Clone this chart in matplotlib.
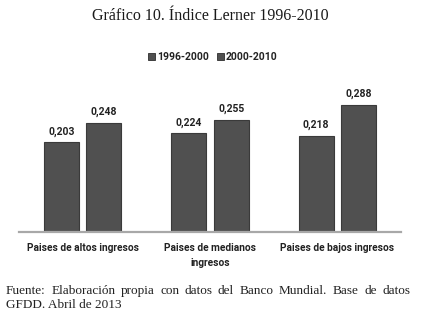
import matplotlib
matplotlib.use("Agg")
import matplotlib.pyplot as plt
import numpy as np
from matplotlib.patches import Rectangle

categories = ["Paises de altos ingresos", "Paises de medianos\ningresos", "Paises de bajos ingresos"]
series_names = ["1996-2000", "2000-2010"]
values_1996_2000 = [0.203, 0.224, 0.218]
values_2000_2010 = [0.248, 0.255, 0.288]

W, H = 421, 315
fig = plt.figure(figsize=(W / 100, H / 100), dpi=100)
fig.patch.set_facecolor("white")

ax = fig.add_axes([19 / W, 83 / H, 382 / W, 152 / H])
x = np.arange(len(categories))
bw = 0.275
off = 0.166
sans = "Roboto"

for vals, sgn in [(values_1996_2000, -1), (values_2000_2010, 1)]:
    bars = ax.bar(x + sgn * off, vals, width=bw, color="#505050",
                  edgecolor="#3a3a3a", linewidth=0.8, zorder=2)
    for b, v in zip(bars, vals):
        ax.annotate(f"{v:.3f}".replace(".", ","),
                    (b.get_x() + b.get_width() / 2, v),
                    xytext=(0, 4), textcoords="offset points",
                    ha="center", va="bottom", fontsize=7.5, fontweight="bold",
                    family=sans, color="#222222")

ax.set_xlim(-0.5, 2.5)
ax.set_ylim(0, 152 / 441)
for s in ["top", "right", "left"]:
    ax.spines[s].set_visible(False)
ax.spines["bottom"].set_color("#a8a8a8")
ax.spines["bottom"].set_linewidth(1.6)
ax.set_yticks([])
ax.set_xticks(x)
ax.set_xticklabels(categories, fontsize=7.3, fontweight="bold", family=sans,
                   color="#222222", linespacing=1.55)
ax.tick_params(axis="x", length=0, pad=8)

# Title
fig.text(210 / W, 1 - 16 / H, "Gráfico 10. Índice Lerner 1996-2010",
         ha="center", va="center", fontsize=11.5, family="Liberation Serif",
         color="#1a1a1a")

# Legend
for sx, name in [(148, series_names[0]), (217, series_names[1])]:
    fig.patches.append(Rectangle((sx / W, 1 - 60 / H), 7 / W, 7 / H,
                                 transform=fig.transFigure,
                                 facecolor="#505050", edgecolor="#2e2e2e", lw=0.6))
    fig.text((sx + 9) / W, 1 - 56.5 / H, name, ha="left", va="center",
             fontsize=7.5, fontweight="bold", family=sans, color="#222222")

# Footnote (justified first line)
line1 = "Fuente: Elaboración propia con datos del Banco Mundial. Base de datos"
line2 = "GFDD. Abril de 2013"
fs = 9.5
serif = "Liberation Serif"
fig.canvas.draw()
r = fig.canvas.get_renderer()
words = line1.split(" ")
x0, x1 = 6, 410
widths = []
for w in words:
    t = fig.text(0, 0, w, fontsize=fs, family=serif)
    widths.append(t.get_window_extent(r).width)
    t.remove()
gap = (x1 - x0 - sum(widths)) / (len(words) - 1)
cx = x0
for w, wd in zip(words, widths):
    fig.text(cx / W, 1 - 291 / H, w, fontsize=fs, family=serif,
             ha="left", va="center", color="#222222")
    cx += wd + gap
fig.text(x0 / W, 1 - 305 / H, line2, fontsize=fs, family=serif,
         ha="left", va="center", color="#222222")

fig.savefig("out.png", dpi=100)
